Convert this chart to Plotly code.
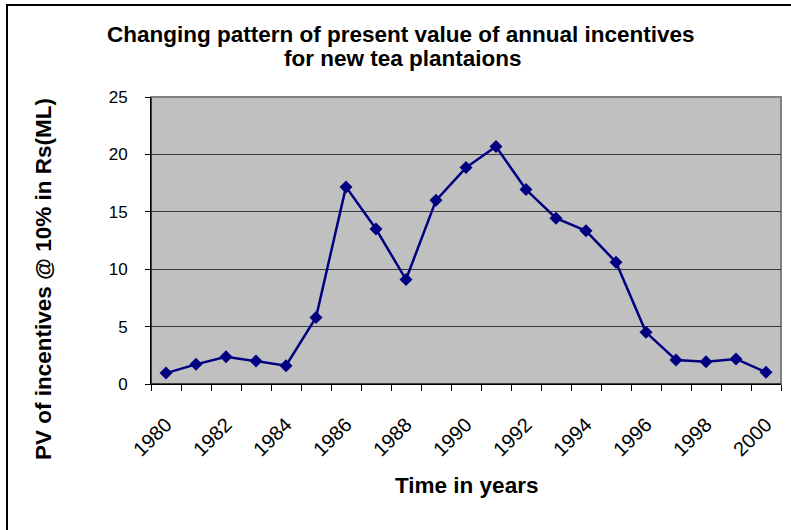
import plotly.graph_objects as go

# ---- data ----
years = list(range(1980, 2001))
pv_incentives = [0.95, 1.71, 2.38, 2.0, 1.6, 5.8, 17.17, 13.5, 9.1, 16.0,
                 18.85, 20.68, 16.94, 14.44, 13.34, 10.61, 4.5, 2.09, 1.94, 2.18, 1.02]
label_years = [y for y in years if y % 2 == 0]
y_ticks = [0, 5, 10, 15, 20, 25]

title_line1 = "Changing pattern of present value of annual incentives"
title_line2 = "for new tea plantaions"
x_title = "Time in years"
y_title = "PV of incentives @ 10% in Rs(ML)"

# ---- layout geometry (pixels) ----
W, H = 791, 530
L, R, T, B = 151, 781, 97, 384
PW, PH = R - L, B - T

def px_x(px):
    return (px - L) / PW

def px_y(py):
    return (B - py) / PH

FONT = "Liberation Sans, Arial, sans-serif"
NAVY = "#000080"

fig = go.Figure()
fig.add_trace(go.Scatter(
    x=years, y=pv_incentives, mode="lines+markers",
    line=dict(color=NAVY, width=2.5),
    marker=dict(symbol="diamond", size=10, color=NAVY),
    showlegend=False, hoverinfo="x+y",
))

boundaries = [y - 0.5 for y in years] + [years[-1] + 0.5]

fig.update_layout(
    width=W, height=H,
    margin=dict(l=L, r=W - R, t=T, b=H - B, pad=0),
    paper_bgcolor="white",
    plot_bgcolor="#C0C0C0",
    font=dict(family=FONT, color="black", size=17),
    xaxis=dict(
        range=[years[0] - 0.5, years[-1] + 0.5],
        tickmode="array", tickvals=label_years, ticktext=[str(v) for v in label_years],
        tickangle=-45, ticks="", showgrid=False, zeroline=False,
        showline=True, linecolor="black", linewidth=1,
        tickfont=dict(size=20, family=FONT),
        ticklabelstandoff=20,
        minor=dict(tickmode="array", tickvals=boundaries, ticks="outside",
                   ticklen=6, tickcolor="black", tickwidth=1, showgrid=False),
    ),
    yaxis=dict(
        range=[0, 25], tickmode="array", tickvals=y_ticks,
        ticks="outside", ticklen=5, tickcolor="black", tickwidth=1,
        showgrid=True, gridcolor="#383838", gridwidth=1,
        zeroline=False, showline=True, linecolor="black", linewidth=1,
        tickfont=dict(size=17, family=FONT),
        ticklabelstandoff=14,
    ),
)

# plot area border (top/right gray)
fig.add_shape(type="rect", xref="paper", yref="paper", x0=0, y0=0, x1=1, y1=1,
              line=dict(color="#808080", width=2), layer="below")
# left/bottom axis lines in black above
fig.add_shape(type="line", xref="paper", yref="paper", x0=0, y0=0, x1=0, y1=1,
              line=dict(color="black", width=1))
fig.add_shape(type="line", xref="paper", yref="paper", x0=0, y0=0, x1=1, y1=0,
              line=dict(color="black", width=1))

# outer chart frame (extends past right/bottom edge)
fig.add_shape(type="rect", xref="paper", yref="paper",
              x0=px_x(7), y0=px_y(545), x1=px_x(805), y1=px_y(5),
              line=dict(color="black", width=2))

# titles
fig.add_annotation(text="<b>%s</b>" % title_line1, xref="paper", yref="paper",
                   x=px_x(401), y=px_y(34), xanchor="center", yanchor="middle",
                   showarrow=False, font=dict(size=22.5, family=FONT))
fig.add_annotation(text="<b>%s</b>" % title_line2, xref="paper", yref="paper",
                   x=px_x(403), y=px_y(58), xanchor="center", yanchor="middle",
                   showarrow=False, font=dict(size=22.5, family=FONT))
fig.add_annotation(text="<b>%s</b>" % x_title, xref="paper", yref="paper",
                   x=px_x(466), y=px_y(485), xanchor="center", yanchor="middle",
                   showarrow=False, font=dict(size=22.5, family=FONT))
fig.add_annotation(text="<b>%s</b>" % y_title, xref="paper", yref="paper",
                   x=px_x(43), y=px_y(279), xanchor="center", yanchor="middle",
                   textangle=-90, showarrow=False, font=dict(size=22.5, family=FONT))

fig.write_html("out.html",
               config={"displayModeBar": False},
               post_script="document.body.style.margin='0';document.body.style.overflow='hidden';")
